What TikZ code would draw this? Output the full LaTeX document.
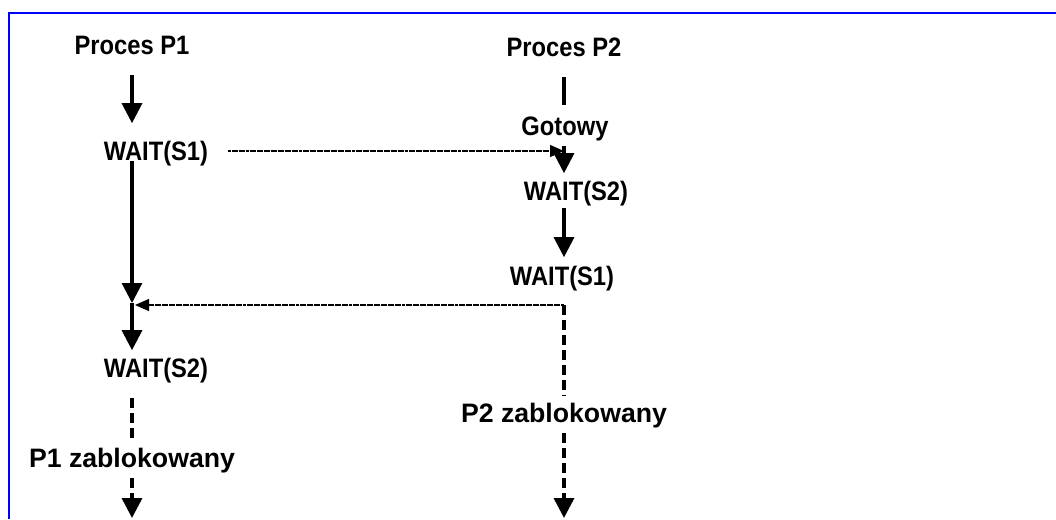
\documentclass[tikz,border=0pt]{standalone}
\usepackage{fontspec}
\newfontfamily\lblfont[FakeStretch=0.89]{Liberation Sans}
\newfontfamily\blkfont{Liberation Sans}
\usetikzlibrary{arrows.meta}

\begin{document}
\begin{tikzpicture}[x=0.75pt,y=0.75pt,yscale=-1,xscale=1,
  lbl/.style={font=\lblfont\bfseries\fontsize{20pt}{24pt}\selectfont, inner sep=0pt, text height=14.3pt, text depth=0pt},
  blk/.style={font=\blkfont\bfseries\fontsize{20pt}{24pt}\selectfont, inner sep=0pt, text height=14.3pt, text depth=0pt},
  flow/.style={line width=2.3pt, -{Triangle[length=15pt,width=15pt]}},
  link/.style={line width=2.3pt},
  wait/.style={line width=2.6pt, dash pattern=on 7.5pt off 3.75pt},
  signal/.style={line width=1pt, dash pattern=on 2.25pt off 0.4pt, -{Triangle[length=10.5pt,width=9pt]}}]
\useasboundingbox (0,0) rectangle (1056,519);

% Frame
\draw [color={rgb,255:red,0;green,0;blue,255}, line width=1.6pt] (9,519) -- (9,13) -- (1056,13);

% Text Node
\node [lbl] (p1) at (132,45) {Proces P1};
% Text Node
\node [lbl] (w1a) at (156,151) {WAIT(S1)};
% Text Node
\node [lbl] (w2a) at (156,368) {WAIT(S2)};
% Text Node
\node [blk] (z1) at (132,458) {P1 zablokowany};
% Text Node
\node [lbl] (p2) at (564,47) {Proces P2};
% Text Node
\node [lbl] (gotowy) at (565,126) {Gotowy};
% Text Node
\node [lbl] (w2b) at (576,191) {WAIT(S2)};
% Text Node
\node [lbl] (w1b) at (562,276) {WAIT(S1)};
% Text Node
\node [blk] (z2) at (564,413) {P2 zablokowany};

\coordinate (meet) at (132,303);
\coordinate (c2) at (564,305);
\coordinate (end1) at (132,518);
\coordinate (end2) at (564,518);

% Process P1
\draw [flow, shorten <=15pt, shorten >=13.5pt] (p1.south) -- (p1.south |- w1a.north);
\draw [flow] (w1a.south -| p1) -- (meet);
\draw [flow, shorten >=6pt] (meet) -- (meet |- w2a.north);
\draw [wait, shorten <=15pt, shorten >=6pt] (w2a.south -| p1) -- (z1.north);
\draw [wait, -{Triangle[length=15pt,width=15pt]}, shorten <=7.5pt] (z1.south) -- (end1);

% Process P2
\draw [link, shorten <=15pt, shorten >=8.25pt] (p2.south) -- (p2.south |- gotowy.north);
\draw [flow, shorten <=7.5pt, shorten >=6pt] (gotowy.south -| p2) -- (p2 |- w2b.north);
\draw [flow, shorten <=5.25pt, shorten >=6.75pt] (w2b.south -| p2) -- (p2 |- w1b.north);
\draw [wait, shorten >=6pt] (c2) -- (z2.north);
\draw [wait, -{Triangle[length=15pt,width=15pt]}, shorten <=7.5pt] (z2.south) -- (end2);

% Signals
\draw [signal, shorten <=15pt] (w1a.east) -- (w1a.east -| p2);
\draw [signal, shorten >=2.25pt] (c2) -- (c2 -| meet);

\end{tikzpicture}
\end{document}
